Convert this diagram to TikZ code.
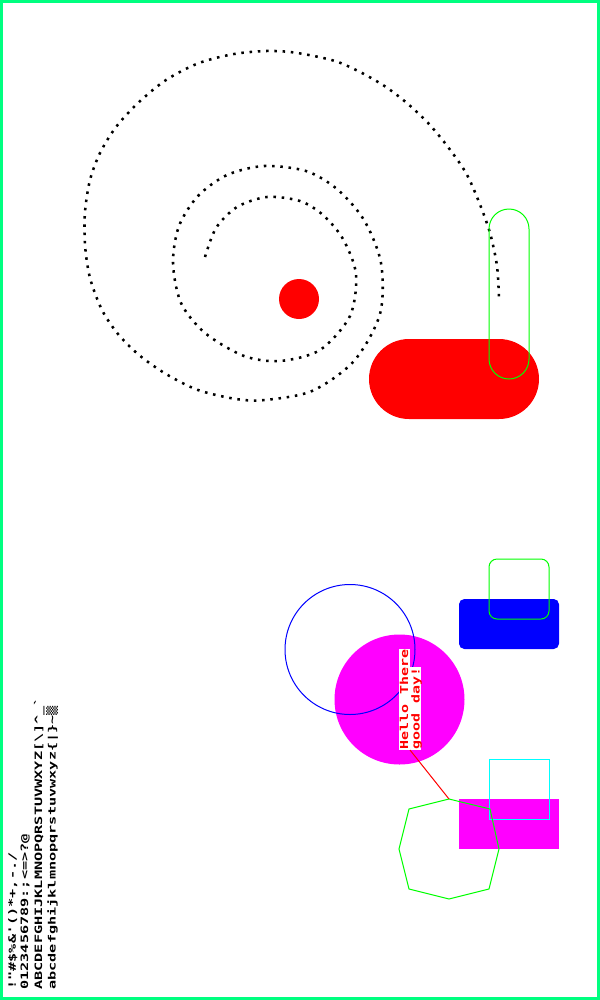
\documentclass[tikz,border=0pt]{standalone}
\usepackage{fontspec}
\newfontfamily\pixfont[FakeStretch=1.5]{DejaVu Sans Mono}
\newfontfamily\hellofont[FakeStretch=1.37]{DejaVu Sans Mono}
\definecolor{framegreen}{RGB}{0,255,128}
\definecolor{pixmagenta}{RGB}{255,0,255}
\definecolor{pixcyan}{RGB}{0,255,255}
\definecolor{pixgreen}{RGB}{0,255,0}
\definecolor{pixblue}{RGB}{0,0,255}
\definecolor{pixred}{RGB}{255,0,0}
\tikzset{
  pixline/.style={rotate=90, anchor=base west, inner sep=0pt, font=\pixfont\bfseries\fontsize{7.6}{8}\selectfont},
  hellotext/.style={rotate=90, fill=white, text=pixred, inner xsep=0.5pt, inner ysep=0pt, text height=7pt, text depth=1.3pt, font=\hellofont\bfseries\fontsize{8.2}{9}\selectfont},
  outline/.style={line width=0.75pt}
}

\begin{document}
\begin{tikzpicture}[x=0.75pt,y=0.75pt,yscale=-1,xscale=1]
\useasboundingbox (0,0) rectangle (600,1000);
\fill[white] (0,0) rectangle (600,1000);

%Dotted spiral
\draw [line width=1.9pt, dash pattern=on 1.9pt off 4.3pt] plot [smooth] coordinates {(205,257) (216,228) (237,207) (267,197) (300,201) (323,215) (343,239) (356,274) (350,316) (320,350) (280,361) (244,356) (205,333) (181,303) (173,263) (179,226) (198,196) (227,175) (264,166) (306,171) (337,189) (364,220) (381,263) (380,314) (354,361) (312,391) (265,400) (236,399) (198,390) (166,374) (139,355) (118,334) (102,310) (90,278) (85,245) (85,212) (90,180) (100,153) (116,127) (138,103) (166,80) (199,63) (234,54) (266,51) (290,52) (314,56) (338,62) (362,73) (386,87) (408,104) (429,124) (448,147) (466,173) (479,202) (490,233) (497,266) (499,299)};

%Red dot
\fill [pixred] (299,299) circle [radius=20];
%Red stadium
\fill [pixred, rounded corners=30pt] (369,339) rectangle (539,419);
%Green stadium outline
\draw [outline, pixgreen, rounded corners=15pt] (489,209) rectangle (529,379);

%Blue box and green rounded outline
\fill [pixblue, rounded corners=4pt] (459,599) rectangle (559,649);
\draw [outline, pixgreen, rounded corners=6pt] (489,559) rectangle (549,619);

%Magenta box and cyan outline
\fill [pixmagenta] (459,799) rectangle (559,849);
\draw [outline, pixcyan] (489,759) rectangle (549,819);

%Circles
\fill [pixmagenta] (399.5,699.5) circle [radius=65];
\draw [outline, pixblue] (350,649.5) circle [radius=65];

%Octagon
\coordinate (octtop) at (449,799);
\draw [outline, pixgreen] (octtop) -- (490,809) -- (499,849) -- (489,889) -- (449,899) -- (409,889) -- (399,849) -- (409,809) -- cycle;

% Text Node
\node [hellotext, anchor=south west] (hello) at (410,750) {Hello There};
\node [hellotext, anchor=north west] (goodday) at (hello.south west) {good day!};
\draw [outline, pixred] (hello.south west) -- (octtop);

% Character set
\node [pixline] (chars1) at (16,990) {!"\#\$\%\&'()*+,-./};
\node [pixline] (chars2) at (28,990) {0123456789:;<=>?@};
\node [pixline] (chars3) at (42,990) {ABCDEFGHIJKLMNOPQRSTUVWXYZ[\textbackslash]\textasciicircum\_`};
\node [pixline] (chars4) at (55.5,990) {abcdefghijklmnopqrstuvwxyz\{|\}\textasciitilde ▒};

%Frame
\draw [framegreen, line width=2.25pt] (1.5,1.5) rectangle (598.5,998.5);
\end{tikzpicture}
\end{document}
